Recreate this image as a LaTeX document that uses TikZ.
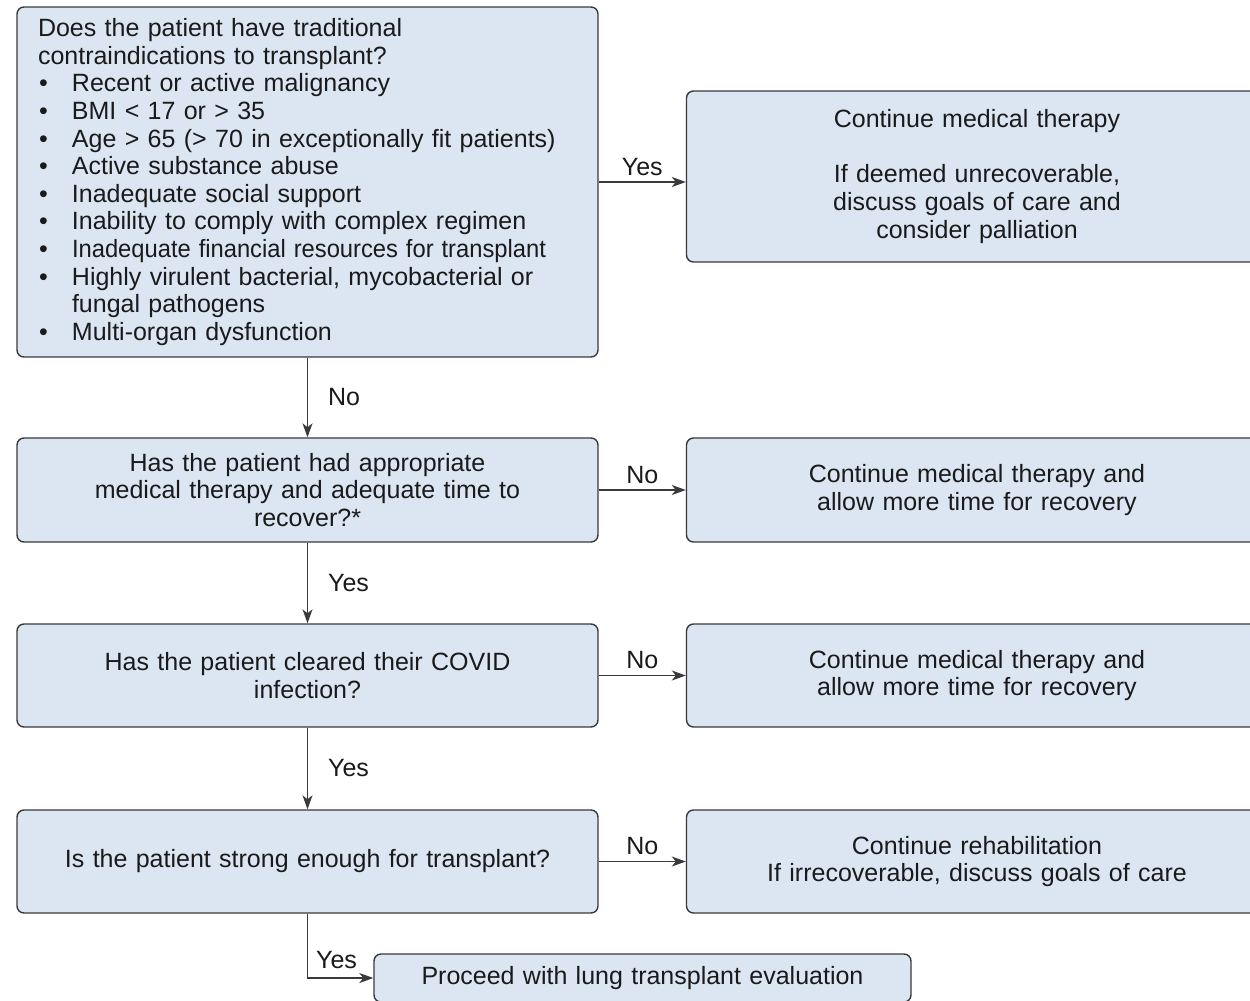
\documentclass[tikz,border=0pt]{standalone}
\usepackage{fontspec}
\setmainfont{Liberation Sans}
\usetikzlibrary{arrows.meta}
\definecolor{boxfill}{HTML}{DCE6F2}
\definecolor{edgec}{HTML}{3A3A3A}
\definecolor{txt}{HTML}{1A1A1A}
\newcommand{\bitem}[1]{\makebox[34pt][l]{\hspace{1pt}•}#1}
\begin{document}
\begin{tikzpicture}[x=1pt,y=-1pt,
  box/.style={draw=edgec, line width=1.4pt, fill=boxfill, rounded corners=7pt,
    minimum width=581pt, inner sep=0pt, text width=545pt, text=txt,
    font=\fontsize{25}{27.6}\selectfont, align=center},
  conn/.style={draw=edgec, line width=1.3pt, -{Stealth[length=14pt,width=10pt,inset=4pt]}},
  lab/.style={font=\fontsize{25}{28}\selectfont, inner sep=0pt, text=txt}]
\useasboundingbox (0,0) rectangle (1250,1001);
\clip (0,0) rectangle (1250,1001);
\node[box, minimum height=350pt, align=left, text width=539pt] (q1) at (307.5,182) {Does the patient have traditional\\
contraindications to transplant?\\
\bitem{Recent or active malignancy}\\
\bitem{BMI < 17 or > 35}\\
\bitem{Age > 65 (> 70 in exceptionally fit patients)}\\
\bitem{Active substance abuse}\\
\bitem{Inadequate social support}\\
\bitem{Inability to comply with complex regimen}\\
\bitem{\scalebox{0.95}[1]{Inadequate financial resources for transplant}}\\
\bitem{Highly virulent bacterial, mycobacterial or}\\
\hspace*{34pt}fungal pathogens\\
\bitem{Multi-organ dysfunction}};
\node[box, minimum height=171pt] (r1) at (977,176.5) {Continue medical therapy\\[27.6pt]
If deemed unrecoverable,\\discuss goals of care and\\consider palliation};
\node[box, minimum height=104pt] (q2) at (307.5,490) {Has the patient had appropriate\\medical therapy and adequate time to\\recover?*};
\node[box, minimum height=104pt] (r2) at (977,490) {Continue medical therapy and\\allow more time for recovery};
\node[box, minimum height=103pt] (q3) at (307.5,675.5) {Has the patient cleared their COVID\\infection?};
\node[box, minimum height=103pt] (r3) at (977,675.5) {Continue medical therapy and\\allow more time for recovery};
\node[box, minimum height=103pt] (q4) at (307.5,861.5) {Is the patient strong enough for transplant?};
\node[box, minimum height=103pt] (r4) at (977,861.5) {Continue rehabilitation\\If irrecoverable, discuss goals of care};
\node[box, minimum width=537pt, text width=520pt, minimum height=48pt] (fin) at (642.5,978) {Proceed with lung transplant evaluation};
\draw[conn] (q1.east |- 0,182) -- (r1.west |- 0,182) node[lab, midway, above=6pt] {Yes};
\draw[conn] (q2.east) -- (r2.west) node[lab, midway, above=6pt] {No};
\draw[conn] (q3.east) -- (r3.west) node[lab, midway, above=6pt] {No};
\draw[conn] (q4.east) -- (r4.west) node[lab, midway, above=6pt] {No};
\draw[conn] (q1.south) -- (q2.north) node[lab, midway, right=20pt] {No};
\draw[conn] (q2.south) -- (q3.north) node[lab, midway, right=20pt] {Yes};
\draw[conn] (q3.south) -- (q4.north) node[lab, midway, right=20pt] {Yes};
\draw[conn] (q4.south) |- (fin.west) node[lab, pos=0.5, anchor=south west, xshift=8pt, yshift=9pt] {Yes};
\end{tikzpicture}
\end{document}
